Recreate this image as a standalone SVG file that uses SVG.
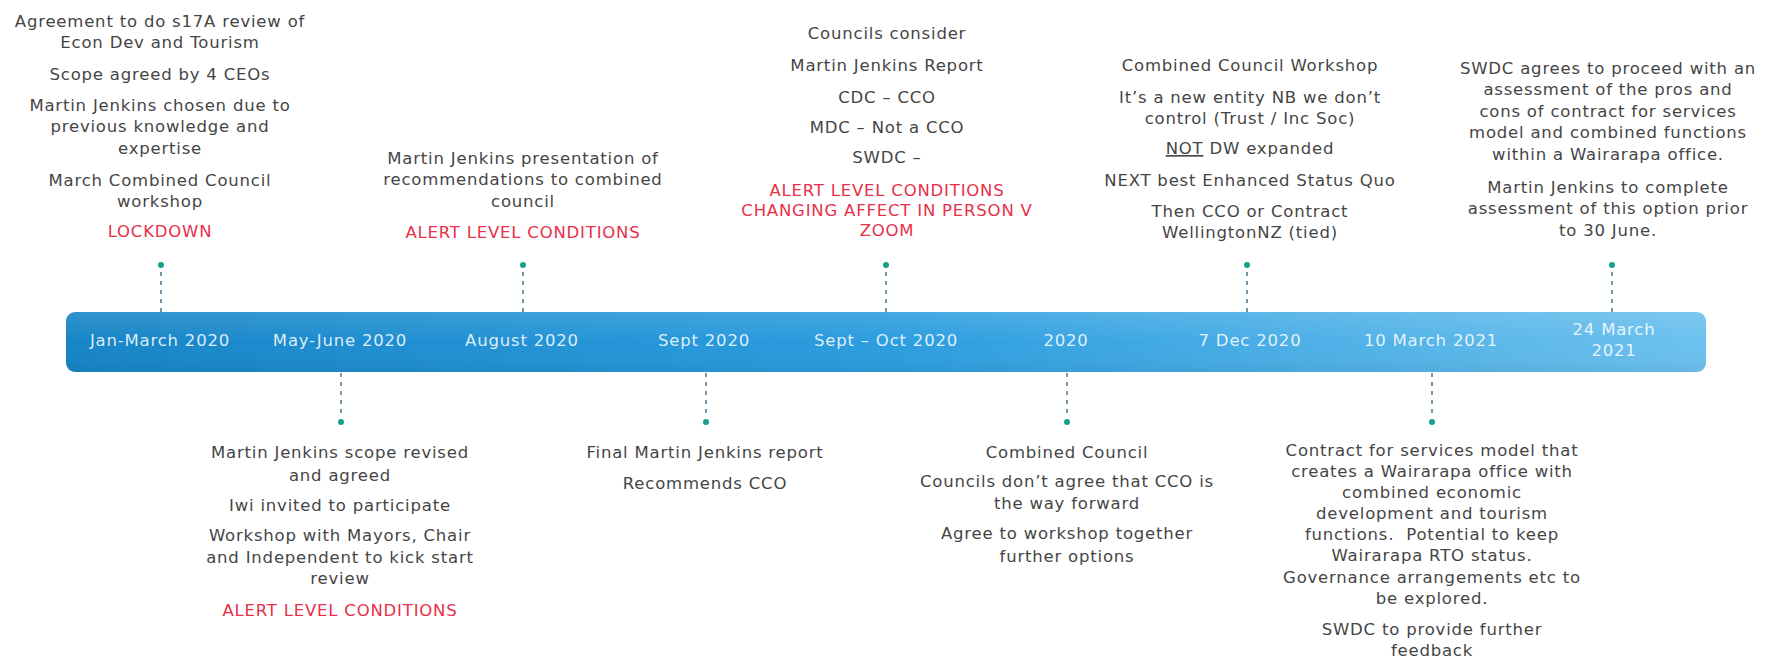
<svg xmlns="http://www.w3.org/2000/svg" width="1765" height="666" viewBox="0 0 1765 666">
<defs>
<linearGradient id="barGrad" x1="0" y1="0" x2="1" y2="0">
<stop offset="0" stop-color="#1684c6"/>
<stop offset="0.5" stop-color="#2b9ddf"/>
<stop offset="1" stop-color="#6cc1ee"/>
</linearGradient>
<linearGradient id="barShine" x1="0" y1="0" x2="0" y2="1">
<stop offset="0" stop-color="#ffffff" stop-opacity="0.12"/>
<stop offset="0.5" stop-color="#ffffff" stop-opacity="0"/>
<stop offset="1" stop-color="#000000" stop-opacity="0.05"/>
</linearGradient>
</defs>
<style>
text{font-family:"DejaVu Sans","Liberation Sans",sans-serif;font-size:16.5px;letter-spacing:0.8px;text-anchor:middle}
.t{fill:#454545}
.r{fill:#e8304a}
.b{fill:#ffffff;fill-opacity:0.85}
.dash{stroke:#4f7f9c;stroke-width:1.6;stroke-dasharray:4 5;fill:none}
.dot{fill:#17a08a}
</style>
<rect width="1765" height="666" fill="#ffffff"/>

<g id="timeline-bar">
<rect x="66" y="312" width="1640" height="60" rx="9" fill="url(#barGrad)"/>
<rect x="66" y="312" width="1640" height="60" rx="9" fill="url(#barShine)"/>
<text class="b" x="160" y="346">Jan-March 2020</text>
<text class="b" x="340" y="346">May-June 2020</text>
<text class="b" x="522" y="346">August 2020</text>
<text class="b" x="704" y="346">Sept 2020</text>
<text class="b" x="886" y="346">Sept – Oct 2020</text>
<text class="b" x="1066" y="346">2020</text>
<text class="b" x="1250" y="346">7 Dec 2020</text>
<text class="b" x="1431" y="346">10 March 2021</text>
<text class="b" x="1614" y="335">24 March</text>
<text class="b" x="1614" y="356">2021</text>
</g>

<g id="connectors">
<line class="dash" x1="161" y1="272" x2="161" y2="312"/>
<circle class="dot" cx="161" cy="265" r="3"/>
<line class="dash" x1="523" y1="272" x2="523" y2="312"/>
<circle class="dot" cx="523" cy="265" r="3"/>
<line class="dash" x1="886" y1="272" x2="886" y2="312"/>
<circle class="dot" cx="886" cy="265" r="3"/>
<line class="dash" x1="1247" y1="272" x2="1247" y2="312"/>
<circle class="dot" cx="1247" cy="265" r="3"/>
<line class="dash" x1="1612" y1="272" x2="1612" y2="312"/>
<circle class="dot" cx="1612" cy="265" r="3"/>
<line class="dash" x1="341" y1="373" x2="341" y2="415"/>
<circle class="dot" cx="341" cy="422" r="3"/>
<line class="dash" x1="706" y1="373" x2="706" y2="415"/>
<circle class="dot" cx="706" cy="422" r="3"/>
<line class="dash" x1="1067" y1="373" x2="1067" y2="415"/>
<circle class="dot" cx="1067" cy="422" r="3"/>
<line class="dash" x1="1432" y1="373" x2="1432" y2="415"/>
<circle class="dot" cx="1432" cy="422" r="3"/>
</g>

<g id="event-jan-march-2020">
<text class="t" x="160" y="27">Agreement to do s17A review of</text>
<text class="t" x="160" y="48">Econ Dev and Tourism</text>
<text class="t" x="160" y="80">Scope agreed by 4 CEOs</text>
<text class="t" x="160" y="111">Martin Jenkins chosen due to</text>
<text class="t" x="160" y="132">previous knowledge and</text>
<text class="t" x="160" y="154">expertise</text>
<text class="t" x="160" y="186">March Combined Council</text>
<text class="t" x="160" y="207">workshop</text>
<text class="r" x="160" y="237">LOCKDOWN</text>
</g>

<g id="event-may-june-2020">
<text class="t" x="340" y="458">Martin Jenkins scope revised</text>
<text class="t" x="340" y="481">and agreed</text>
<text class="t" x="340" y="511">Iwi invited to participate</text>
<text class="t" x="340" y="541">Workshop with Mayors, Chair</text>
<text class="t" x="340" y="563">and Independent to kick start</text>
<text class="t" x="340" y="584">review</text>
<text class="r" x="340" y="616">ALERT LEVEL CONDITIONS</text>
</g>

<g id="event-august-2020">
<text class="t" x="523" y="164">Martin Jenkins presentation of</text>
<text class="t" x="523" y="185">recommendations to combined</text>
<text class="t" x="523" y="207">council</text>
<text class="r" x="523" y="238">ALERT LEVEL CONDITIONS</text>
</g>

<g id="event-sept-2020">
<text class="t" x="705" y="458">Final Martin Jenkins report</text>
<text class="t" x="705" y="489">Recommends CCO</text>
</g>

<g id="event-sept-oct-2020">
<text class="t" x="887" y="39">Councils consider</text>
<text class="t" x="887" y="71">Martin Jenkins Report</text>
<text class="t" x="887" y="103">CDC – CCO</text>
<text class="t" x="887" y="133">MDC – Not a CCO</text>
<text class="t" x="887" y="163">SWDC –</text>
<text class="r" x="887" y="196">ALERT LEVEL CONDITIONS</text>
<text class="r" x="887" y="216">CHANGING AFFECT IN PERSON V</text>
<text class="r" x="887" y="236">ZOOM</text>
</g>

<g id="event-2020">
<text class="t" x="1067" y="458">Combined Council</text>
<text class="t" x="1067" y="487">Councils don’t agree that CCO is</text>
<text class="t" x="1067" y="509">the way forward</text>
<text class="t" x="1067" y="539">Agree to workshop together</text>
<text class="t" x="1067" y="562">further options</text>
</g>

<g id="event-7-dec-2020">
<text class="t" x="1250" y="71">Combined Council Workshop</text>
<text class="t" x="1250" y="103">It’s a new entity NB we don’t</text>
<text class="t" x="1250" y="124">control (Trust / Inc Soc)</text>
<text class="t" x="1250" y="154"><tspan text-decoration="underline">NOT</tspan> DW expanded</text>
<text class="t" x="1250" y="186">NEXT best Enhanced Status Quo</text>
<text class="t" x="1250" y="217">Then CCO or Contract</text>
<text class="t" x="1250" y="238">WellingtonNZ (tied)</text>
</g>

<g id="event-10-march-2021">
<text class="t" x="1432" y="456">Contract for services model that</text>
<text class="t" x="1432" y="477">creates a Wairarapa office with</text>
<text class="t" x="1432" y="498">combined economic</text>
<text class="t" x="1432" y="519">development and tourism</text>
<text class="t" x="1432" y="540" xml:space="preserve">functions.  Potential to keep</text>
<text class="t" x="1432" y="561">Wairarapa RTO status.</text>
<text class="t" x="1432" y="583">Governance arrangements etc to</text>
<text class="t" x="1432" y="604">be explored.</text>
<text class="t" x="1432" y="635">SWDC to provide further</text>
<text class="t" x="1432" y="656">feedback</text>
</g>

<g id="event-24-march-2021">
<text class="t" x="1608" y="74">SWDC agrees to proceed with an</text>
<text class="t" x="1608" y="95">assessment of the pros and</text>
<text class="t" x="1608" y="117">cons of contract for services</text>
<text class="t" x="1608" y="138">model and combined functions</text>
<text class="t" x="1608" y="160">within a Wairarapa office.</text>
<text class="t" x="1608" y="193">Martin Jenkins to complete</text>
<text class="t" x="1608" y="214">assessment of this option prior</text>
<text class="t" x="1608" y="236">to 30 June.</text>
</g>
</svg>
